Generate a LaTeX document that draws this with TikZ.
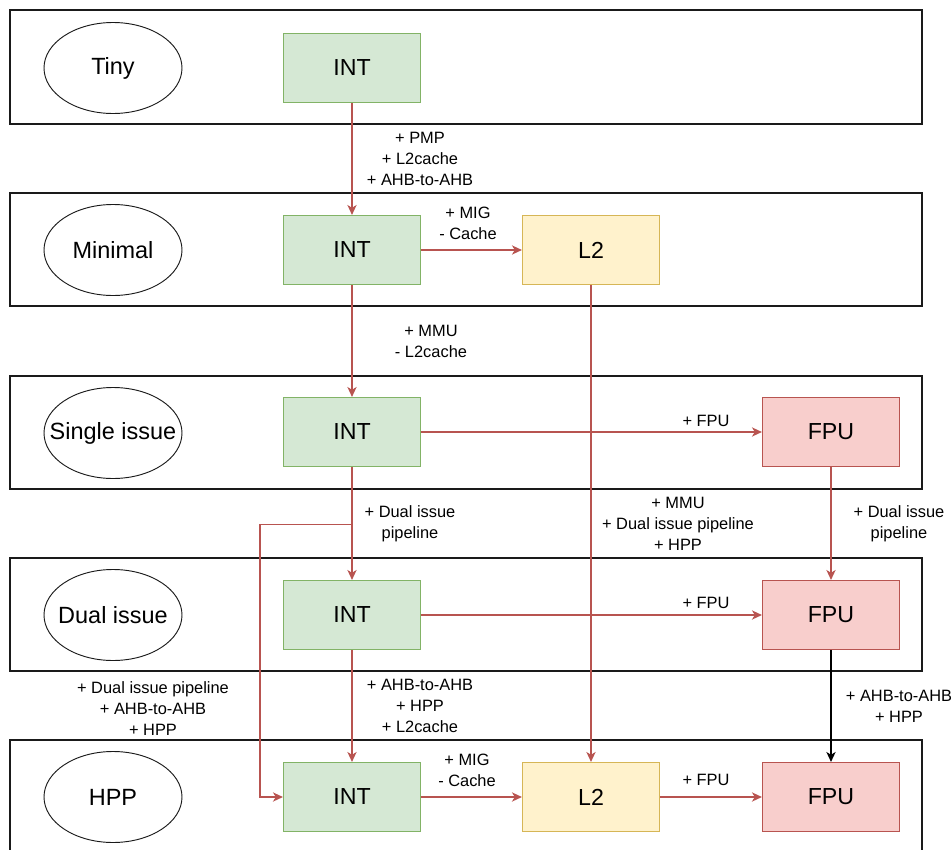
\documentclass[tikz,border=0pt]{standalone}
\usepackage{fontspec}
\setmainfont{Liberation Sans}
\usetikzlibrary{arrows.meta,shapes.geometric}

\definecolor{intfill}{HTML}{D5E8D4}
\definecolor{intline}{HTML}{82B366}
\definecolor{l2fill}{HTML}{FFF2CC}
\definecolor{l2line}{HTML}{D6B656}
\definecolor{fpufill}{HTML}{F8CECC}
\definecolor{fpuline}{HTML}{B85450}
\definecolor{edgecol}{HTML}{B85450}
\definecolor{framecol}{HTML}{1A1A1A}

\tikzset{
  frame/.style={draw=framecol, line width=0.9pt},
  unit/.style={rectangle, inner sep=0pt, minimum width=102.75pt, minimum height=51.75pt,
    line width=0.9pt, font=\fontsize{17.4pt}{20pt}\selectfont},
  intbox/.style={unit, draw=intline, fill=intfill},
  l2box/.style={unit, draw=l2line, fill=l2fill},
  fpubox/.style={unit, draw=fpuline, fill=fpufill},
  level/.style={ellipse, draw=framecol, line width=0.7pt, inner sep=0pt,
    minimum width=103.5pt, minimum height=68.25pt,
    label={[font=\fontsize{17.6pt}{20pt}\selectfont, inner sep=0pt]center:#1}},
  edge/.style={draw=edgecol, line width=0.9pt,
    -{Stealth[length=7.5pt, width=7pt, inset=2.2pt]}},
  blackedge/.style={draw=black, line width=0.9pt,
    -{Stealth[length=7.5pt, width=7pt, inset=2.2pt]}},
  note/.style={inner sep=0pt, align=center,
    font=\fontsize{12.3pt}{15.75pt}\selectfont},
}

\begin{document}
\begin{tikzpicture}[x=0.75pt, y=-0.75pt]
\useasboundingbox (0,0) rectangle (951,850);
\clip (0,0) rectangle (951,850);

% configuration bands
\draw[frame] (10,10) rectangle (922,124);
\draw[frame] (10,193) rectangle (922,306);
\draw[frame] (10,376) rectangle (922,489);
\draw[frame] (10,558) rectangle (922,671);
\draw[frame] (10,740) rectangle (922,880);

% configuration names
\node[level=Tiny]         (tiny)   at (113,68)  {};
\node[level=Minimal]      (minim)  at (113,250) {};
\node[level=Single issue] (single) at (113,433) {};
\node[level=Dual issue]   (dual)   at (113,615) {};
\node[level=HPP]          (hpp)    at (113,797) {};

% blocks
\node[intbox] (i1) at (352,68)  {INT};
\node[intbox] (i2) at (352,250) {INT};
\node[intbox] (i3) at (352,432) {INT};
\node[intbox] (i4) at (352,615) {INT};
\node[intbox] (i5) at (352,797) {INT};
\node[l2box]  (l2a) at (591,250) {L2};
\node[l2box]  (l2b) at (591,797) {L2};
\node[fpubox] (f3) at (831,432) {FPU};
\node[fpubox] (f4) at (831,615) {FPU};
\node[fpubox] (f5) at (831,797) {FPU};

% connectors
\draw[edge] (i1) -- (i2);
\draw[edge] (i2) -- (l2a);
\draw[edge] (i2) -- (i3);
\draw[edge] (i3) -- (f3);
\draw[edge] (i3) -- (i4);
\draw[edge] (i3.south) -- ++(0,57) -| ([xshift=-17.25pt]i5.west) -- (i5.west);
\draw[edge] (l2a) -- (l2b);
\draw[edge] (f3) -- (f4);
\draw[edge] (i4) -- (f4);
\draw[edge] (i4) -- (i5);
\draw[blackedge] (f4) -- (f5);
\draw[edge] (i5) -- (l2b);
\draw[edge] (l2b) -- (f5);

% change notes
\node[note] (n1)  at (420,159) {+ PMP\\+ L2cache\\+ AHB-to-AHB};
\node[note] (n2)  at (468,223) {+ MIG\\- Cache};
\node[note] (n3)  at (431,341) {+ MMU\\- L2cache};
\node[note] (n4)  at (706,421) {+ FPU};
\node[note] (n5)  at (410,524) {+ Dual issue\\pipeline};
\node[note] (n6)  at (678,524) {+ MMU\\+ Dual issue pipeline\\+ HPP};
\node[note] (n7)  at (899,524) {+ Dual issue\\pipeline};
\node[note] (n8)  at (706,603) {+ FPU};
\node[note] (n9)  at (153,709) {+ Dual issue pipeline\\+ AHB-to-AHB\\+ HPP};
\node[note] (n10) at (420,706) {+ AHB-to-AHB\\+ HPP\\+ L2cache};
\node[note] (n11) at (899,706) {+ AHB-to-AHB\\+ HPP};
\node[note] (n12) at (467,770) {+ MIG\\- Cache};
\node[note] (n13) at (706,780) {+ FPU};
\end{tikzpicture}
\end{document}
